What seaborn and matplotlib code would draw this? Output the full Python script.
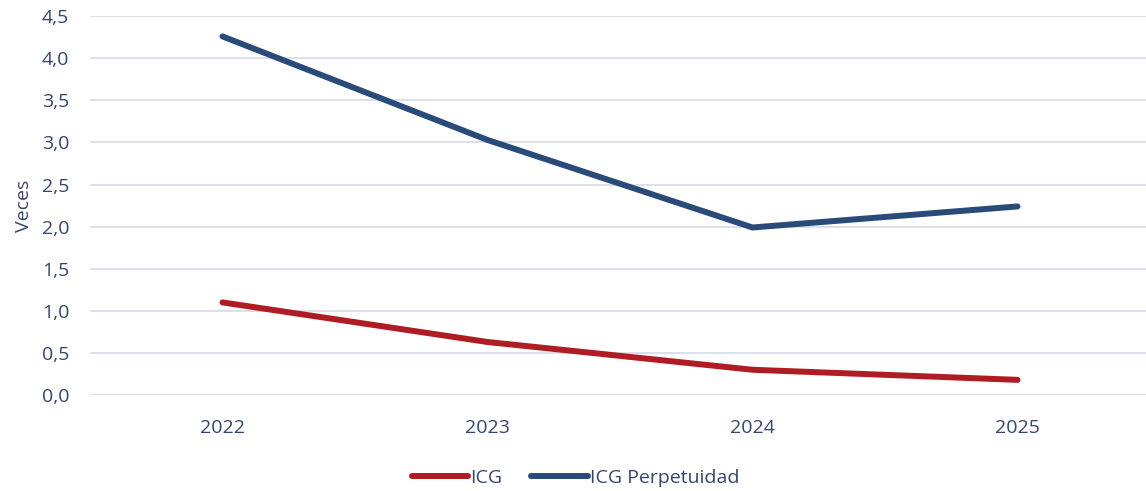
import pandas as pd
import matplotlib
matplotlib.use("Agg")
import matplotlib.pyplot as plt
import seaborn as sns
from matplotlib.ticker import FuncFormatter

# data
years = ["2022", "2023", "2024", "2025"]
icg = [1.10, 0.63, 0.30, 0.18]
icg_perp = [4.26, 3.03, 1.99, 2.24]
series_names = ["ICG", "ICG Perpetuidad"]
colors = ["#B01C24", "#2A4A7A"]

df = pd.DataFrame({
    "year": years * 2,
    "value": icg + icg_perp,
    "serie": [series_names[0]] * 4 + [series_names[1]] * 4,
})

sns.set_style("white")
plt.rcParams["font.family"] = ["Open Sans", "DejaVu Sans"]
text_color = "#36456A"
fs = 14

fig = plt.figure(figsize=(11.46, 4.91), dpi=100)
ax = fig.add_axes([0.0785, 0.1955, 0.925, 0.7715])

sns.lineplot(data=df, x="year", y="value", hue="serie", palette=colors,
             linewidth=4.3, solid_capstyle="round", ax=ax)

ax.set_xlim(-0.5, 3.5)
ax.set_ylim(0, 4.5)
ax.set_yticks([i * 0.5 for i in range(10)])
ax.yaxis.set_major_formatter(FuncFormatter(lambda v, p: f"{v:.1f}".replace(".", ",")))
ax.grid(axis="y", color="#D9DCEB", linewidth=1.3)
ax.set_axisbelow(True)
for s in ax.spines.values():
    s.set_visible(False)
ax.tick_params(axis="y", length=0, labelsize=fs, colors=text_color, pad=15)
ax.tick_params(axis="x", length=0, labelsize=fs, colors=text_color, pad=17)
ax.set_xlabel("")
ax.set_ylabel("Veces", fontsize=fs, color=text_color, labelpad=6)

# legend at the bottom centre
handles, labels = ax.get_legend_handles_labels()
ax.legend(handles, labels, loc="center", bbox_to_anchor=(0.502, 0.026),
          bbox_transform=fig.transFigure, ncol=2, frameon=False, fontsize=fs,
          handlelength=2.9, handletextpad=0.1, columnspacing=1.5,
          labelcolor=text_color)

fig.savefig("out.png", dpi=100)
